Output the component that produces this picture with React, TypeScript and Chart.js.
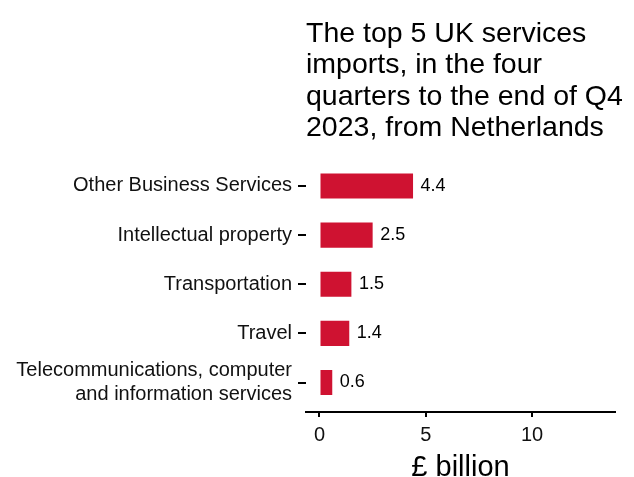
import React, { useEffect, useRef } from "react";
import { Chart, registerables } from "chart.js";

Chart.register(...registerables);

const categories: string[] = [
  "Other Business Services",
  "Intellectual property",
  "Transportation",
  "Travel",
  "Telecommunications, computer\nand information services",
];
const values: number[] = [4.4, 2.5, 1.5, 1.4, 0.6];
const xTicks: number[] = [0, 5, 10];
const titleLines: string[] = [
  "The top 5 UK services",
  "imports, in the four",
  "quarters to the end of Q4",
  "2023, from Netherlands",
];
const xTitle = "£ billion";

const FONT = "'Liberation Sans', Arial, sans-serif";
const BAR_COLOR = "#CF1231";

const titlePlugin = {
  id: "leftTitle",
  afterDraw(chart: any) {
    const ctx = chart.ctx;
    ctx.save();
    ctx.fillStyle = "#000";
    ctx.font = `28.5px ${FONT}`;
    ctx.textAlign = "left";
    ctx.textBaseline = "alphabetic";
    titleLines.forEach((line, i) => {
      ctx.fillText(line, chart.chartArea.left, 42 + i * 31.3);
    });
    ctx.restore();
  },
};

const labelPlugin = {
  id: "barLabels",
  afterDatasetsDraw(chart: any) {
    const ctx = chart.ctx;
    const meta = chart.getDatasetMeta(0);
    ctx.save();
    ctx.fillStyle = "#000";
    ctx.font = `18px ${FONT}`;
    ctx.textAlign = "left";
    ctx.textBaseline = "middle";
    meta.data.forEach((bar: any, i: number) => {
      ctx.fillText(values[i].toFixed(1), bar.x + 7.5, bar.y);
    });
    ctx.restore();
  },
};

export default function App() {
  const ref = useRef<HTMLCanvasElement | null>(null);

  useEffect(() => {
    if (!ref.current) return;
    Chart.defaults.font.family = FONT;
    const chart = new Chart(ref.current, {
      type: "bar",
      data: {
        datasets: [
          {
            data: values.map((v, i) => ({ x: v, y: i })) as any,
            backgroundColor: BAR_COLOR,
            borderWidth: 0,
            categoryPercentage: 0.51,
            barPercentage: 1,
          },
        ],
      },
      options: {
        indexAxis: "y",
        animation: false,
        responsive: true,
        maintainAspectRatio: false,
        layout: { padding: { top: 156.5, right: 19, left: 0, bottom: 0 } },
        plugins: {
          legend: { display: false },
          tooltip: { enabled: false },
          title: { display: false },
        },
        scales: {
          x: {
            type: "linear",
            position: "bottom",
            min: -0.635,
            max: 13.9,
            offset: false,
            afterBuildTicks: (s: any) => {
              s.ticks = xTicks.map((v) => ({ value: v }));
            },
            afterFit: (s: any) => {
              s.height = 65;
            },
            grid: {
              drawOnChartArea: false,
              drawTicks: true,
              tickLength: 5,
              color: "#000",
              lineWidth: 2,
              offset: false,
            },
            border: { display: true, color: "#000", width: 2 },
            ticks: {
              padding: 6,
              color: "#111",
              font: { size: 20 },
              maxRotation: 0,
              autoSkip: false,
              callback: (v: any) => String(v),
            },
            title: {
              display: true,
              text: xTitle,
              color: "#000",
              font: { size: 29, lineHeight: 0.62 },
              padding: 0,
            },
          },
          y: {
            type: "linear",
            reverse: true,
            min: -0.6,
            max: 4.6,
            offset: false,
            afterBuildTicks: (s: any) => {
              s.ticks = categories.map((_, i) => ({ value: i }));
            },
            afterFit: (s: any) => {
              s.width = 306;
            },
            grid: {
              drawOnChartArea: false,
              drawTicks: true,
              tickLength: 8,
              color: "#000",
              lineWidth: 2,
              offset: false,
            },
            border: { display: false },
            ticks: {
              padding: 6,
              color: "#111",
              autoSkip: false,
              font: { size: 20 },
              callback: (_v: any, idx: number) => categories[idx].split("\n"),
            },
          },
        },
      } as any,
      plugins: [titlePlugin, labelPlugin],
    });
    return () => chart.destroy();
  }, []);

  return (
    <div style={{ position: "absolute", left: 0, top: 0, width: 634, height: 477, background: "#fff" }}>
      <canvas ref={ref} />
    </div>
  );
}
